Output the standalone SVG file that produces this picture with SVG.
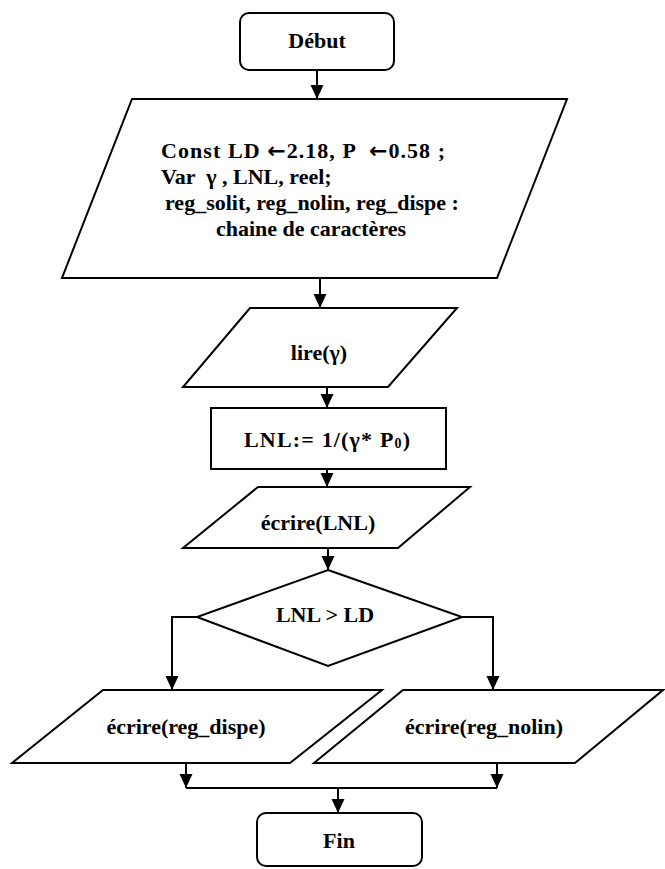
<svg xmlns="http://www.w3.org/2000/svg" width="665" height="869" viewBox="0 0 665 869">
  <defs>
    <style>
      .shape { fill: #ffffff; stroke: #000000; stroke-width: 2; stroke-linejoin: miter; }
      .conn { fill: none; stroke: #000000; stroke-width: 2; }
      .lbl { font-family: "Liberation Serif", "Times New Roman", serif; font-weight: bold; font-size: 22px; fill: #000000; }
      .mid { text-anchor: middle; }
      .arr { font-family: "DejaVu Sans", sans-serif; font-weight: bold; }
    </style>
    <marker id="arrow" markerUnits="userSpaceOnUse" markerWidth="14" markerHeight="14" refX="14" refY="6.5" orient="auto">
      <path d="M0,0 L14,6.5 L0,13 Z" fill="#000000"/>
    </marker>
  </defs>
  <rect x="0" y="0" width="665" height="869" fill="#ffffff"/>

  <g id="connectors">
    <line class="conn" x1="317" y1="70" x2="317" y2="99" marker-end="url(#arrow)"/>
    <line class="conn" x1="320" y1="278" x2="320" y2="308" marker-end="url(#arrow)"/>
    <line class="conn" x1="327" y1="387" x2="327" y2="408" marker-end="url(#arrow)"/>
    <line class="conn" x1="327" y1="469" x2="327" y2="487" marker-end="url(#arrow)"/>
    <line class="conn" x1="328" y1="548" x2="328" y2="570" marker-end="url(#arrow)"/>
    <path class="conn" d="M197,617 H172 V690" marker-end="url(#arrow)"/>
    <path class="conn" d="M462,617 H493 V690" marker-end="url(#arrow)"/>
    <line class="conn" x1="186" y1="763" x2="186" y2="788" marker-end="url(#arrow)"/>
    <line class="conn" x1="497" y1="763" x2="497" y2="788" marker-end="url(#arrow)"/>
    <line class="conn" x1="186" y1="788" x2="497" y2="788"/>
    <line class="conn" x1="338" y1="788" x2="338" y2="813" marker-end="url(#arrow)"/>
  </g>

  <g id="debut">
    <rect class="shape" x="240" y="13" width="154" height="57" rx="9" ry="9"/>
    <text class="lbl mid" x="317" y="48" font-size="23">Début</text>
  </g>

  <g id="declarations">
    <polygon class="shape" points="132,99 567,99 497,278 62,278"/>
    <text class="lbl" x="161" y="158" xml:space="preserve" textLength="284" lengthAdjust="spacing">Const LD <tspan class="arr">←</tspan>2.18, P  <tspan class="arr">←</tspan>0.58 ;</text>
    <text class="lbl" x="161" y="184" xml:space="preserve">Var  γ , LNL, reel;</text>
    <text class="lbl" x="165" y="210">reg_solit, reg_nolin, reg_dispe :</text>
    <text class="lbl mid" x="311" y="236">chaine de caractères</text>
  </g>

  <g id="lire">
    <polygon class="shape" points="250,308 457,308 388,387 183,387"/>
    <text class="lbl mid" x="319" y="360">lire(γ)</text>
  </g>

  <g id="calcul">
    <rect class="shape" x="211" y="408" width="235" height="61"/>
    <text class="lbl mid" x="327" y="447" font-size="24" textLength="166" lengthAdjust="spacing">LNL:= 1/(γ* P<tspan font-size="14" dy="1">0</tspan><tspan dy="-1">)</tspan></text>
  </g>

  <g id="ecrire-lnl">
    <polygon class="shape" points="258,487 470,487 398,548 183,548"/>
    <text class="lbl mid" x="318" y="530">écrire(LNL)</text>
  </g>

  <g id="test">
    <polygon class="shape" points="328,570 462,617 328,666 197,617"/>
    <text class="lbl mid" x="325" y="622" font-size="23">LNL &gt; LD</text>
  </g>

  <g id="ecrire-dispe">
    <polygon class="shape" points="103,690 382,690 290,763 12,763"/>
    <text class="lbl mid" x="186" y="734">écrire(reg_dispe)</text>
  </g>

  <g id="ecrire-nolin">
    <polygon class="shape" points="403,690 663,690 575,763 314,763"/>
    <text class="lbl mid" x="484" y="734">écrire(reg_nolin)</text>
  </g>

  <g id="fin">
    <rect class="shape" x="257" y="813" width="165" height="53" rx="9" ry="9"/>
    <text class="lbl mid" x="339" y="848" font-size="24">Fin</text>
  </g>
</svg>
